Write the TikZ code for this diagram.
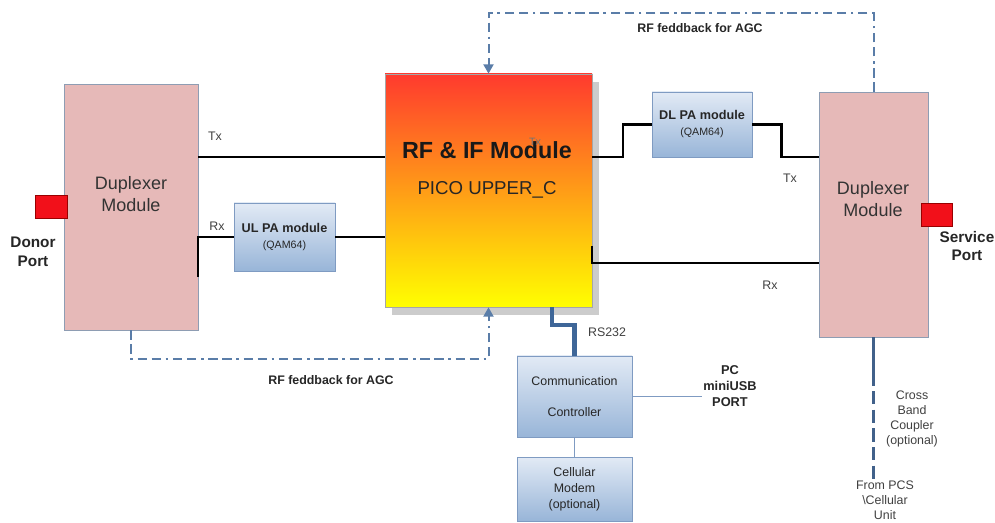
\documentclass[tikz,border=0pt]{standalone}
\usepackage{fontspec}
\setsansfont{Liberation Sans}
\usetikzlibrary{positioning,arrows.meta,shadows,calc}

\definecolor{pinkfill}{HTML}{E6B9B8}
\definecolor{pinkframe}{HTML}{8E9DB3}
\definecolor{bluetop}{HTML}{E2EAF5}
\definecolor{bluebot}{HTML}{98B5D8}
\definecolor{blueframe}{HTML}{7F9BC2}
\definecolor{rftop}{HTML}{FF3A2E}
\definecolor{rfbot}{HTML}{FFFF00}
\definecolor{portred}{HTML}{F2101A}
\definecolor{feedblue}{HTML}{5A7DA8}
\definecolor{rsblue}{HTML}{3E6698}
\definecolor{coupleblue}{HTML}{41618A}

\newcommand\pahead{\bfseries\fontsize{9.5}{12.5}\selectfont}
\newcommand\pasub{\mdseries\fontsize{8}{9}\selectfont}

\begin{document}
\begin{tikzpicture}[
        x=0.75pt, y=-0.75pt,
        font=\sffamily,
        boxsize/.style 2 args={minimum width=#1*0.75pt, minimum height=#2*0.75pt},
        dupbox/.style={draw=pinkframe, fill=pinkfill, line width=0.6pt, inner sep=0pt},
        dupfont/.style={align=center, text=black!80, font=\sffamily\fontsize{13.5}{16.5}\selectfont},
        port/.style={draw=red!60!black, fill=portred, line width=0.4pt, inner sep=0pt},
        portlbl/.style={align=center, text=black!85, font=\sffamily\bfseries\fontsize{11.5}{14}\selectfont},
        pabox/.style={draw=blueframe, top color=bluetop, bottom color=bluebot, line width=0.6pt,
            align=center, inner sep=1pt, text=black!85},
        small/.style={align=center, text=black!75, inner sep=1pt, font=\sffamily\fontsize{9.3}{11.3}\selectfont},
        smallbold/.style={small, text=black!85, font=\sffamily\bfseries\fontsize{9.3}{11.3}\selectfont},
        sig/.style={line width=1.7pt, black},
        feedback/.style={draw=feedblue, line width=1.5pt,
            dash pattern=on 7pt off 3.5pt on 7pt off 3.5pt on 2pt off 3.5pt,
            -{Triangle[length=7pt,width=7.5pt]}},
        rsline/.style={draw=rsblue, line width=3.4pt},
        thinlink/.style={draw=blueframe, line width=0.7pt},
        couple/.style={draw=coupleblue, line width=2pt}
    ]
    \useasboundingbox (0,0) rectangle (995,523);

    % Step 1: donor side
    \node[dupbox, boxsize={134}{246}] (duplL) at (131,207) {};
    \node[dupfont] (duplLtxt) at (131,194) {Duplexer\\Module};
    \node[port, boxsize={32}{23}] (donor) at (51,206.5) {};
    \node[portlbl] (donorlbl) at (33,252) {Donor\\Port};

    % Step 2: main module
    \node[draw=black!35, line width=0.5pt, top color=rftop, bottom color=rfbot,
        drop shadow={shadow xshift=5pt, shadow yshift=-6pt, fill=black!40, opacity=0.5},
        boxsize={207}{233}] (rf) at (488.5,190.5) {};
    \node[text=black!90, font=\sffamily\bfseries\fontsize{17.5}{20}\selectfont] (rftitle) at (487,150) {RF \& IF Module};
    \node[small, text=black!55, font=\sffamily\fontsize{8}{9}\selectfont] (rfstray) at (535,142) {Tx};
    \node[text=black!85, font=\sffamily\fontsize{14}{16}\selectfont] (rfsub) at (487,190) {PICO UPPER\_C};

    % Step 3: PA modules
    \node[pabox, boxsize={101}{68}] (ulpa) at (284.5,237)
        {{\pahead UL PA module}\\{\pasub(QAM64)}};
    \node[pabox, boxsize={100}{65}] (dlpa) at (702,124.5)
        {{\pahead DL PA module}\\{\pasub(QAM64)}};

    % Step 4: service side
    \node[dupbox, boxsize={109}{245}] (duplR) at (873.5,214.5) {};
    \node[dupfont] (duplRtxt) at (873,199) {Duplexer\\Module};
    \node[port, boxsize={31}{23}] (service) at (936.5,214.5) {};
    \node[portlbl] (servicelbl) at (967,246) {Service\\Port};

    % Step 5: control part
    \node[pabox, boxsize={115}{81}, font=\sffamily\fontsize{9.3}{11.3}\selectfont] (comm) at (574.5,396.5)
        {Communication\\[12pt]Controller};
    \node[pabox, boxsize={115}{64}, font=\sffamily\fontsize{9.3}{12}\selectfont] (modem) at (574.5,489)
        {Cellular\\Modem\\(optional)};
    \node[smallbold, font=\sffamily\bfseries\fontsize{9.6}{12}\selectfont] (pcport) at (730,386) {PC\\miniUSB\\PORT};
    \node[small] (cross) at (912,419) {Cross\\Band\\Coupler\\(optional)};
    \node[small] (pcs) at (885,500) {From PCS\\\textbackslash Cellular\\Unit};

    % signal labels
    \node[small] (txL) at (215,136) {Tx};
    \node[small] (rxL) at (217,226) {Rx};
    \node[small] (txR) at (790,178) {Tx};
    \node[small] (rxR) at (770,285) {Rx};
    \node[small] (rs) at (607,332) {RS232};
    \node[smallbold] (fbtoplbl) at (700,28) {RF feddback for AGC};
    \node[smallbold] (fbbotlbl) at (331,380) {RF feddback for AGC};

    % signal paths
    \coordinate (txlvl) at (0,157);
    \coordinate (rxlvl) at (0,263);
    \coordinate (rxstub) at (198,277);
    \coordinate (rfrx) at (592,246);
    \draw[sig] (duplL.east |- txlvl) -- (rf.west |- txlvl);
    \draw[sig] (rxstub) |- (ulpa.west);
    \draw[sig] (ulpa.east) -- (rf.west |- ulpa.east);
    \draw[sig] (rf.east |- txlvl) -- ++(31,0) |- (dlpa.west);
    \draw[sig] (dlpa.east) -- ++(29,0) |- (duplR.west |- txlvl);
    \draw[sig] (rfrx) |- (duplR.west |- rxlvl);

    % feedback loops
    \coordinate (fbtop) at (0,13);
    \coordinate (fbbot) at (0,359);
    \draw[feedback] (duplR.north) -- (duplR.north |- fbtop) -| (rf.north);
    \draw[feedback] (duplL.south) -- (duplL.south |- fbbot) -| (rf.south);

    % control links
    \coordinate (rsx) at (552,0);
    \coordinate (rsy) at (0,325);
    \draw[rsline] (rf.south -| rsx) -- (rsx |- rsy) -| (comm.north);
    \draw[thinlink] (comm.east) -- (pcport.west |- comm.east);
    \draw[thinlink] (comm.south) -- (modem.north);

    % cross band coupler
    \draw[couple] (duplR.south) -- ++(0,35) coordinate (cbsplit);
    \draw[couple, dash pattern=on 10pt off 4pt] (cbsplit) -- (duplR.south |- pcs.north);

\end{tikzpicture}
\end{document}
